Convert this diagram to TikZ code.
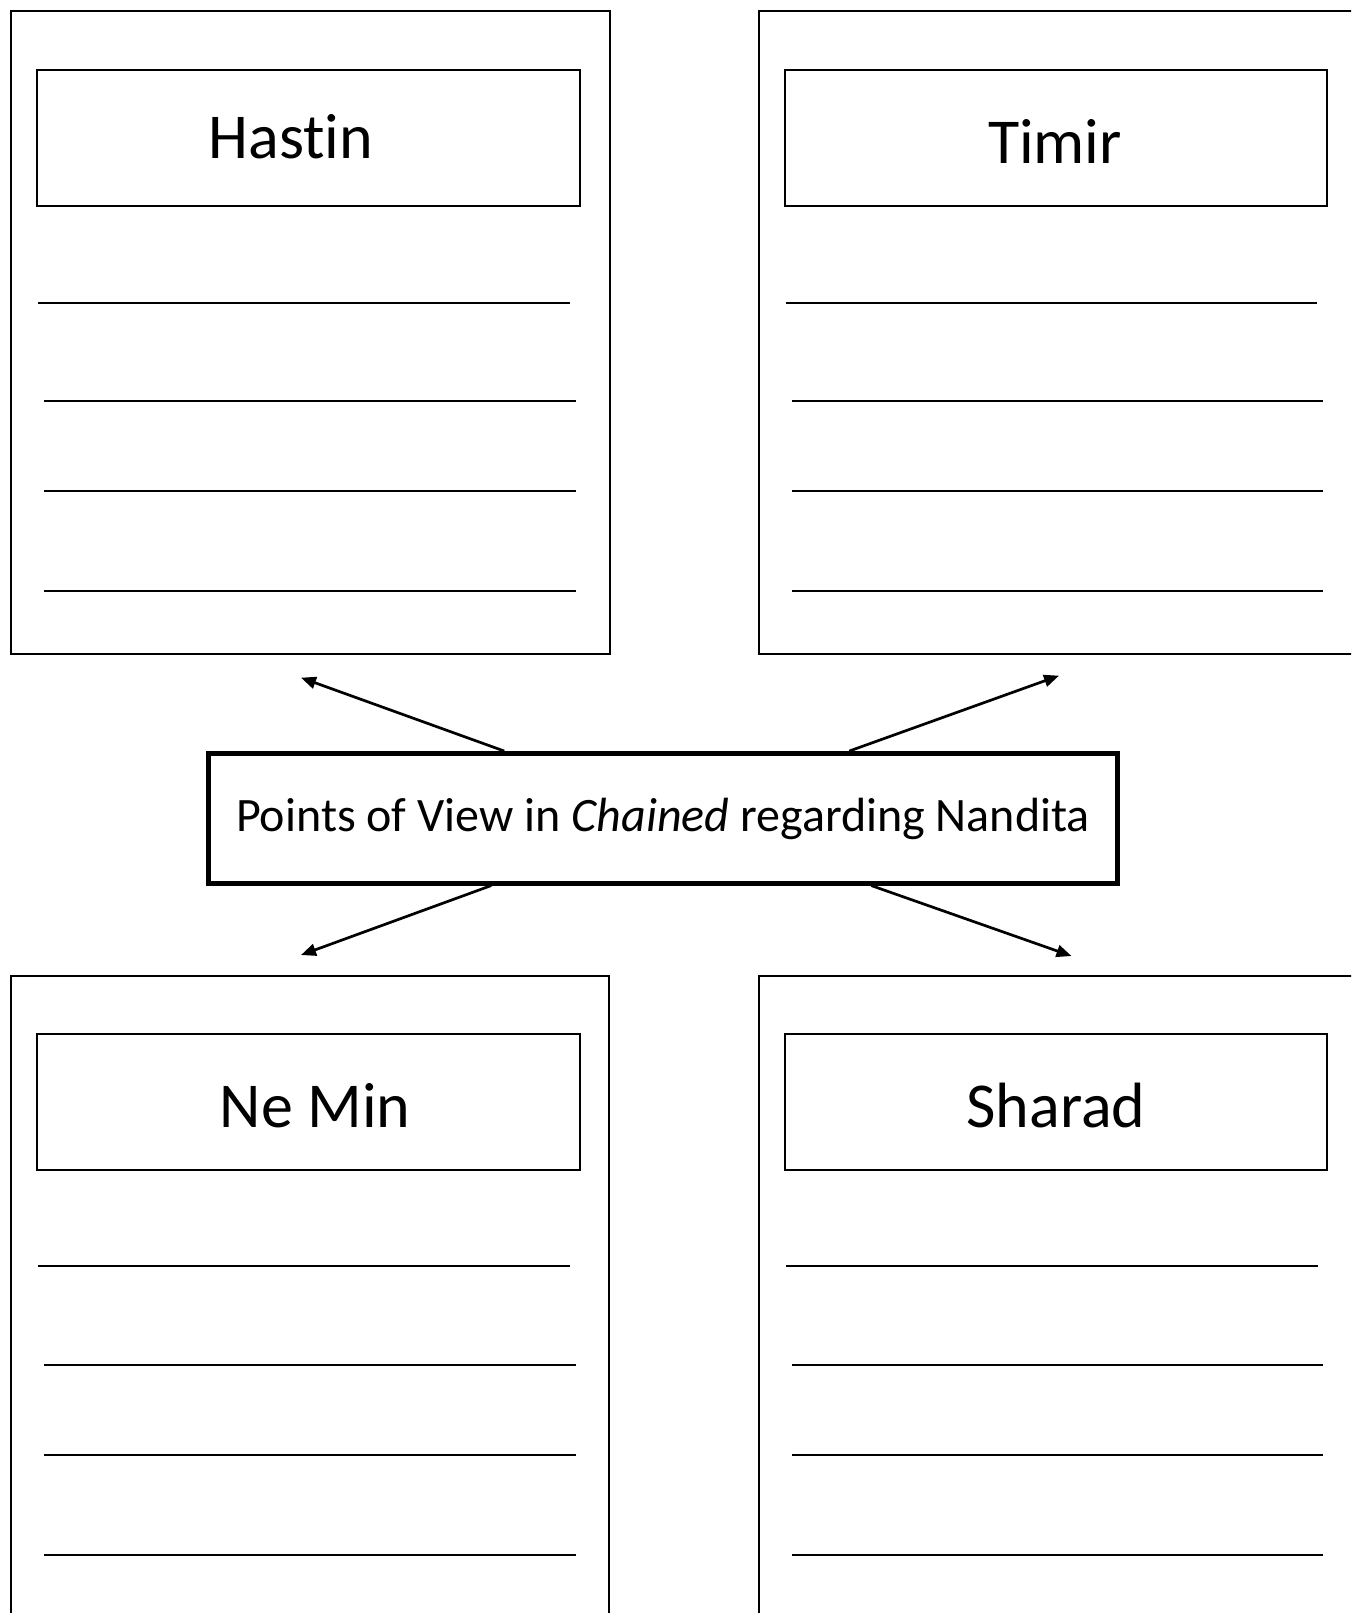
\documentclass[tikz,border=0pt]{standalone}
\usepackage{fontspec}
\setmainfont[Ligatures=NoCommon]{Carlito}
\usetikzlibrary{arrows.meta}
\begin{document}
\begin{tikzpicture}[x=1pt,y=-1pt,
  outerbox/.style={draw=black,line width=2pt},
  titlebox/.style={draw=black,line width=2.2pt},
  wline/.style={draw=black,line width=2pt},
  titletext/.style={anchor=base,inner sep=0pt,font=\fontsize{64}{70}\selectfont},
  centerbox/.style={draw=black,line width=4.5pt,minimum width=909pt,minimum height=130pt,inner sep=0pt},
  centertext/.style={anchor=base,inner sep=0pt,font=\fontsize{48}{54}\selectfont},
  arr/.style={line width=2.7pt,-{Triangle[length=15pt,width=12pt]}}]
\useasboundingbox (0,0) rectangle (1351,1613);
\clip (0,0) rectangle (1351,1613);
\fill[white] (0,0) rectangle (1351,1613);
% outer boxes
\draw[outerbox] (10.5,11) rectangle (610,653.5);
\draw[outerbox] (758.5,11) rectangle (1420,653.5);
\draw[outerbox] (11,975.5) rectangle (609,1700);
\draw[outerbox] (759,975.5) rectangle (1420,1700);
% title boxes
\draw[titlebox] (37,70) rectangle (580,206);
\draw[titlebox] (785,70) rectangle (1327,206);
\draw[titlebox] (37,1034) rectangle (580,1170);
\draw[titlebox] (785,1034) rectangle (1327,1170);
% titles
\node[titletext] (hastin) at (291,158.5) {Hastin};
\node[titletext] (timir) at (1055,164) {Timir};
\node[titletext] (nemin) at (315,1127) {Ne Min};
\node[titletext] (sharad) at (1056,1127.5) {Sharad};
% writing lines top
\foreach \y/\a/\b/\c/\d in {302.7/38/570/786/1317, 401/44/576/792/1323, 491/44/576/792/1323, 590.6/44/576/792/1323}{
  \draw[wline] (\a,\y) -- (\b,\y);
  \draw[wline] (\c,\y) -- (\d,\y);
}
% writing lines bottom
\foreach \y/\a/\b/\c/\d in {1266/38/570/786/1318, 1365/44/576/792/1323, 1455/44/576/792/1323, 1554.6/44/576/792/1323}{
  \draw[wline] (\a,\y) -- (\b,\y);
  \draw[wline] (\c,\y) -- (\d,\y);
}
% center
\node[centerbox] (center) at (663,818.3) {};
\node[centertext] (ctext) at (663,831) {Points of View in \textit{Chained} regarding Nandita};
% arrow targets
\coordinate (tl) at (301,677.7);
\coordinate (tr) at (1059,675.7);
\coordinate (bl) at (301,955);
\coordinate (br) at (1071.5,956);
\draw[arr] ([xshift=298pt]center.north west) -- (tl);
\draw[arr] ([xshift=643pt]center.north west) -- (tr);
\draw[arr] ([xshift=285pt]center.south west) -- (bl);
\draw[arr] ([xshift=665pt]center.south west) -- (br);
\end{tikzpicture}
\end{document}
